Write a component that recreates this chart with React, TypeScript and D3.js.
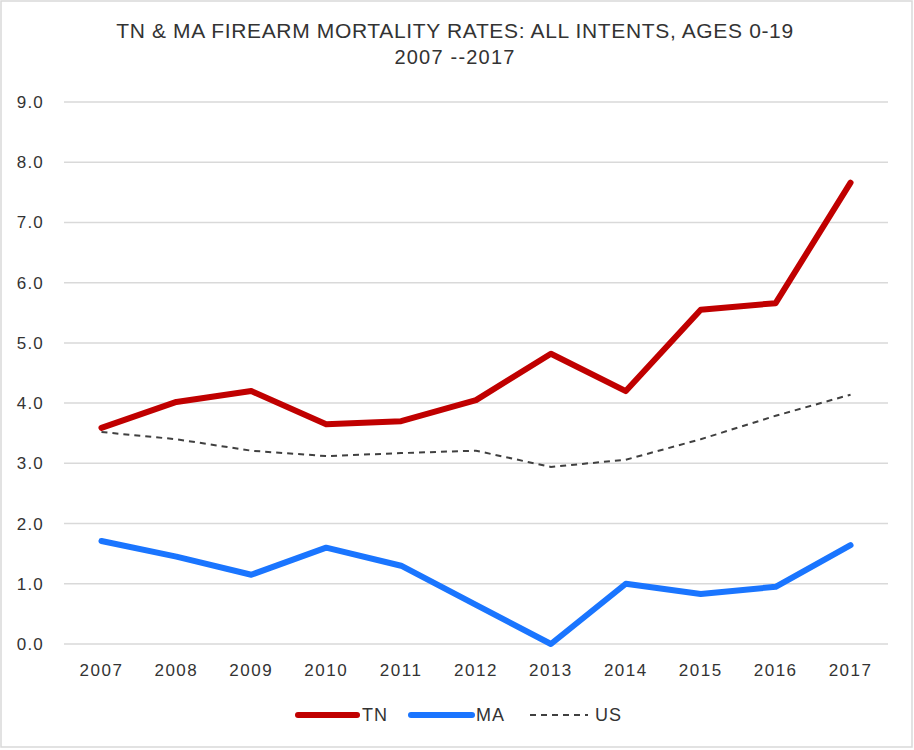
import React from "react";
import * as d3 from "d3";

const years = ["2007","2008","2009","2010","2011","2012","2013","2014","2015","2016","2017"];
const tnValues = [3.59, 4.02, 4.20, 3.65, 3.70, 4.05, 4.82, 4.20, 5.55, 5.66, 7.66];
const maValues = [1.71, 1.45, 1.15, 1.60, 1.30, 0.65, 0.0, 1.0, 0.83, 0.95, 1.64];
const usValues = [3.52, 3.40, 3.21, 3.12, 3.17, 3.21, 2.94, 3.06, 3.40, 3.79, 4.14];
const yTicks = [0, 1, 2, 3, 4, 5, 6, 7, 8, 9];
const titleLines = ["TN & MA FIREARM MORTALITY RATES: ALL INTENTS, AGES 0-19", "2007 --2017"];

const W = 914, H = 750;
const FONT = "'Liberation Sans', Arial, Helvetica, sans-serif";
const TEXT = "#333333";

export default function App() {
  const x = d3.scaleBand<string>().domain(years).range([64, 888]).padding(0);
  const xc = (d: string) => (x(d) as number) + x.bandwidth() / 2;
  const y = d3.scaleLinear().domain([0, 9]).range([644, 102]);
  const line = d3.line<number>().x((_, i) => xc(years[i])).y((v) => y(v));

  return (
    <svg width={W} height={H} style={{ position: "absolute", left: 0, top: 0, background: "#fff" }} fontFamily={FONT}>
      <rect x={1} y={1} width={911} height={746} fill="#fff" stroke="#d9d9d9" strokeWidth={1.5} />
      <text x={455} y={38} textAnchor="middle" fontSize={21} letterSpacing={0.65} fill={TEXT}>{titleLines[0]}</text>
      <text x={455} y={64} textAnchor="middle" fontSize={20} letterSpacing={1.2} fill={TEXT}>{titleLines[1]}</text>
      {yTicks.map((t) => (
        <g key={t}>
          <line x1={64} x2={888} y1={y(t)} y2={y(t)} stroke="#d9d9d9" strokeWidth={1.5} />
          <text x={44} y={y(t)} dy="0.35em" textAnchor="end" fontSize={17} letterSpacing={1.2} fill={TEXT}>{d3.format(".1f")(t)}</text>
        </g>
      ))}
      {years.map((yr) => (
        <text key={yr} x={xc(yr)} y={676} textAnchor="middle" fontSize={17} letterSpacing={1.5} fill={TEXT}>{yr}</text>
      ))}
      <path d={line(usValues) || ""} fill="none" stroke="#404040" strokeWidth={2} strokeDasharray="6,5" />
      <path d={line(maValues) || ""} fill="none" stroke="#1a75ff" strokeWidth={6} strokeLinejoin="round" strokeLinecap="round" />
      <path d={line(tnValues) || ""} fill="none" stroke="#c00000" strokeWidth={6} strokeLinejoin="round" strokeLinecap="round" />
      <g>
        <line x1={298} x2={357} y1={715} y2={715} stroke="#c00000" strokeWidth={6} strokeLinecap="round" />
        <text x={362} y={715} dy="0.35em" fontSize={18} letterSpacing={1} fill={TEXT}>TN</text>
        <line x1={411} x2={472} y1={715} y2={715} stroke="#1a75ff" strokeWidth={6} strokeLinecap="round" />
        <text x={476} y={715} dy="0.35em" fontSize={18} letterSpacing={1} fill={TEXT}>MA</text>
        <line x1={530} x2={588} y1={715} y2={715} stroke="#404040" strokeWidth={2} strokeDasharray="6,5" />
        <text x={595} y={715} dy="0.35em" fontSize={18} letterSpacing={1} fill={TEXT}>US</text>
      </g>
    </svg>
  );
}
